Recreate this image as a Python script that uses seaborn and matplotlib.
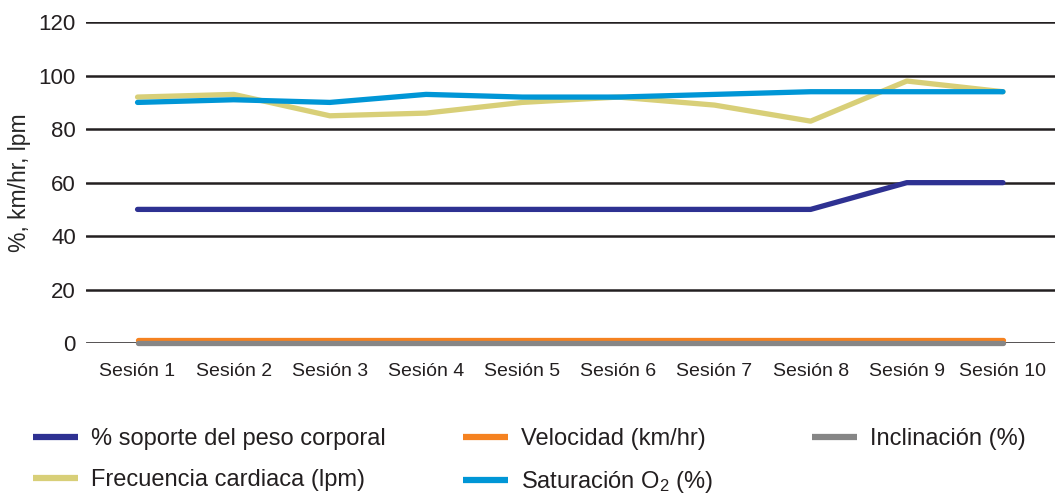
import matplotlib
matplotlib.use("Agg")
import matplotlib.pyplot as plt
import seaborn as sns

# Data
sessions = ["Sesión 1", "Sesión 2", "Sesión 3", "Sesión 4", "Sesión 5",
            "Sesión 6", "Sesión 7", "Sesión 8", "Sesión 9", "Sesión 10"]
soporte = [50, 50, 50, 50, 50, 50, 50, 50, 60, 60]
velocidad = [1, 1, 1, 1, 1, 1, 1, 1, 1, 1]
inclinacion = [0, 0, 0, 0, 0, 0, 0, 0, 0, 0]
frecuencia = [92, 93, 85, 86, 90, 92, 89, 83, 98, 94]
saturacion = [90, 91, 90, 93, 92, 92, 93, 94, 94, 94]

labels = ["% soporte del peso corporal", "Velocidad (km/hr)", "Inclinación (%)",
          "Frecuencia cardiaca (lpm)", "Saturación O$\\mathregular{_2}$ (%)"]
colors = ["#2e3192", "#f58220", "#868686", "#d8cf78", "#0096d6"]

sns.set_style("white")
plt.rcParams["font.family"] = ["Liberation Sans", "DejaVu Sans"]
plt.rcParams["text.color"] = "#231f20"

fig = plt.figure(figsize=(10.57, 4.93), dpi=100)
ax = fig.add_axes([0.081, 0.304, 0.917, 0.651])

x = list(range(len(sessions)))
series = [soporte, velocidad, inclinacion, frecuencia, saturacion]
handles = []
for vals, lab, col in zip(series, labels, colors):
    sns.lineplot(x=x, y=vals, ax=ax, color=col, linewidth=3.8, label=lab,
                 solid_capstyle="round", clip_on=False, zorder=3)
    handles.append(ax.get_lines()[-1])

ax.set_ylim(0, 120)
ax.set_xlim(-0.54, 9.54)
ax.set_yticks(range(0, 121, 20))
ax.set_xticks(x)
ax.set_xticklabels(sessions)
ax.grid(axis="y", color="#231f20", linewidth=1.8)
ax.set_axisbelow(True)
for s in ax.spines.values():
    s.set_visible(False)
ax.tick_params(axis="both", length=0, colors="#231f20")
ax.tick_params(axis="x", pad=14, labelsize=14)
ax.tick_params(axis="y", pad=7, labelsize=16)
ax.set_xlabel("")
ax.set_ylabel("%, km/hr, lpm", fontsize=16.5)
ax.yaxis.set_label_coords(-0.056, 0.5)
ax.get_legend().remove()

# legend: three columns placed under the plot
cols = [([0, 3], 0.0205), ([1, 4], 0.427), ([2], 0.757)]
for idx, xpos in cols:
    leg = fig.legend([handles[i] for i in idx], [labels[i] for i in idx],
                     loc="upper left", bbox_to_anchor=(xpos, 0.156), ncol=1,
                     frameon=False, fontsize=17, handlelength=1.9, handletextpad=0.55,
                     labelspacing=0.8, borderpad=0)
    for h in leg.legend_handles:
        h.set_linewidth(4.5)
        h.set_solid_capstyle("butt")

fig.savefig("out.png", dpi=100)
